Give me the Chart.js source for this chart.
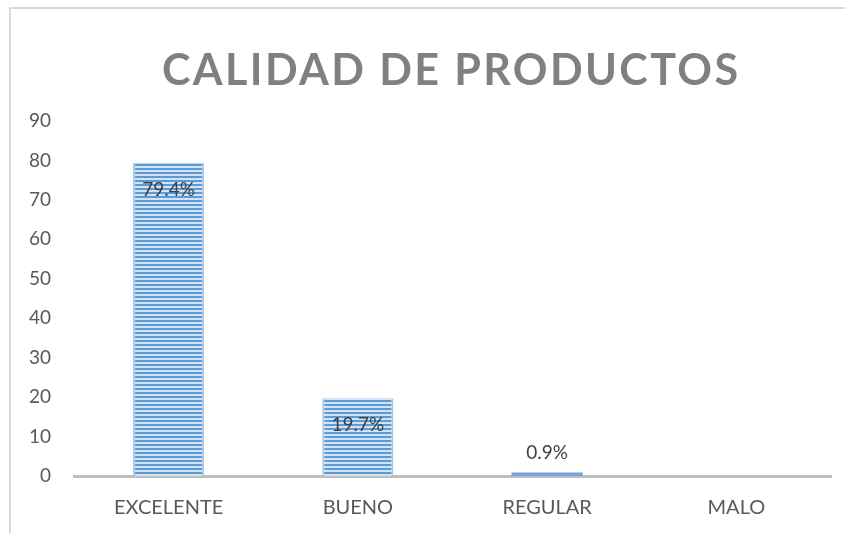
<!DOCTYPE html>
<html>
<head>
<meta charset="utf-8">
<script src="https://cdn.jsdelivr.net/npm/chart.js@4.4.1/dist/chart.umd.min.js"></script>
<style>
  html, body { margin: 0; padding: 0; background: #ffffff; }
  #wrap { position: relative; width: 845px; height: 533px; }
</style>
</head>
<body>
<div id="wrap"><canvas id="c" width="845" height="533"></canvas></div>
<script>
const chartTitle = 'CALIDAD DE PRODUCTOS';
const categories = ['EXCELENTE', 'BUENO', 'REGULAR', 'MALO'];
const values = [79.4, 19.7, 0.9, 0];
const yTicks = [0, 10, 20, 30, 40, 50, 60, 70, 80, 90];

const FONT = 'Lato, "Open Sans", "Liberation Sans", sans-serif';

function makeStripePattern() {
  const p = document.createElement('canvas');
  p.width = 4; p.height = 4;
  const g = p.getContext('2d');
  g.fillStyle = '#5b9bd5';
  g.fillRect(0, 0, 4, 2);
  g.fillStyle = '#d3e2f4';
  g.fillRect(0, 2, 4, 2);
  return g.createPattern(p, 'repeat');
}
const stripes = makeStripePattern();

const framePlugin = {
  id: 'frame',
  beforeDraw(chart) {
    const ctx = chart.ctx;
    ctx.save();
    ctx.strokeStyle = '#d9d9d9';
    ctx.lineWidth = 2;
    ctx.beginPath();
    ctx.moveTo(10, chart.height);
    ctx.lineTo(10, 8);
    ctx.lineTo(chart.width, 8);
    ctx.stroke();
    ctx.restore();
  }
};

const titlePlugin = {
  id: 'spacedTitle',
  afterDraw(chart) {
    const ctx = chart.ctx;
    ctx.save();
    ctx.font = 'bold 43px ' + FONT;
    ctx.fillStyle = '#808080';
    ctx.textBaseline = 'alphabetic';
    ctx.textAlign = 'left';
    ctx.letterSpacing = '0px';
    const w0 = ctx.measureText(chartTitle).width;
    const n = chartTitle.length;
    const target = 576;
    const sp = Math.max(0, (target - w0) / (n - 1));
    ctx.letterSpacing = sp + 'px';
    const x = 450 - target / 2;
    ctx.fillText(chartTitle, x, 85);
    ctx.restore();
  }
};

const labelPlugin = {
  id: 'barLabels',
  afterDatasetsDraw(chart) {
    const ctx = chart.ctx;
    const meta = chart.getDatasetMeta(0);
    const yScale = chart.scales.y;
    ctx.save();
    ctx.font = '19px ' + FONT;
    ctx.fillStyle = '#404040';
    ctx.textAlign = 'center';
    ctx.textBaseline = 'middle';
    meta.data.forEach((bar, i) => {
      const v = values[i];
      if (!v) return;
      const h = yScale.getPixelForValue(0) - bar.y;
      const y = h > 40 ? bar.y + 27 : bar.y - 20;
      ctx.fillText(v.toFixed(1) + '%', bar.x, y);
    });
    ctx.restore();
  }
};

new Chart(document.getElementById('c'), {
  type: 'bar',
  data: {
    labels: categories,
    datasets: [{
      data: values,
      backgroundColor: (c) => (values[c.dataIndex] < 5 ? '#74a5da' : stripes),
      borderColor: '#a9c8ea',
      borderWidth: (c) => (values[c.dataIndex] < 5 ? 0 : { left: 2, right: 2, top: 1, bottom: 0 }),
      borderSkipped: 'bottom',
      categoryPercentage: 1,
      barPercentage: 0.376
    }]
  },
  options: {
    responsive: false,
    animation: false,
    layout: { padding: { top: 121, right: 14, bottom: 0, left: 0 } },
    plugins: {
      legend: { display: false },
      title: { display: false },
      tooltip: { enabled: false }
    },
    scales: {
      x: {
        grid: { display: false, drawTicks: false },
        border: { display: true, color: '#bfbfbf', width: 3 },
        ticks: {
          color: '#595959',
          font: { family: FONT, size: 20 },
          padding: 20,
          maxRotation: 0
        },
        afterFit(s) { s.height = 57; }
      },
      y: {
        min: 0,
        max: 90,
        grid: { display: false, drawTicks: false },
        border: { display: false },
        afterBuildTicks(s) { s.ticks = yTicks.map(v => ({ value: v })); },
        ticks: {
          color: '#595959',
          font: { family: FONT, size: 19 },
          padding: 23
        },
        afterFit(s) { s.width = 74; }
      }
    }
  },
  plugins: [framePlugin, titlePlugin, labelPlugin]
});
</script>
</body>
</html>
